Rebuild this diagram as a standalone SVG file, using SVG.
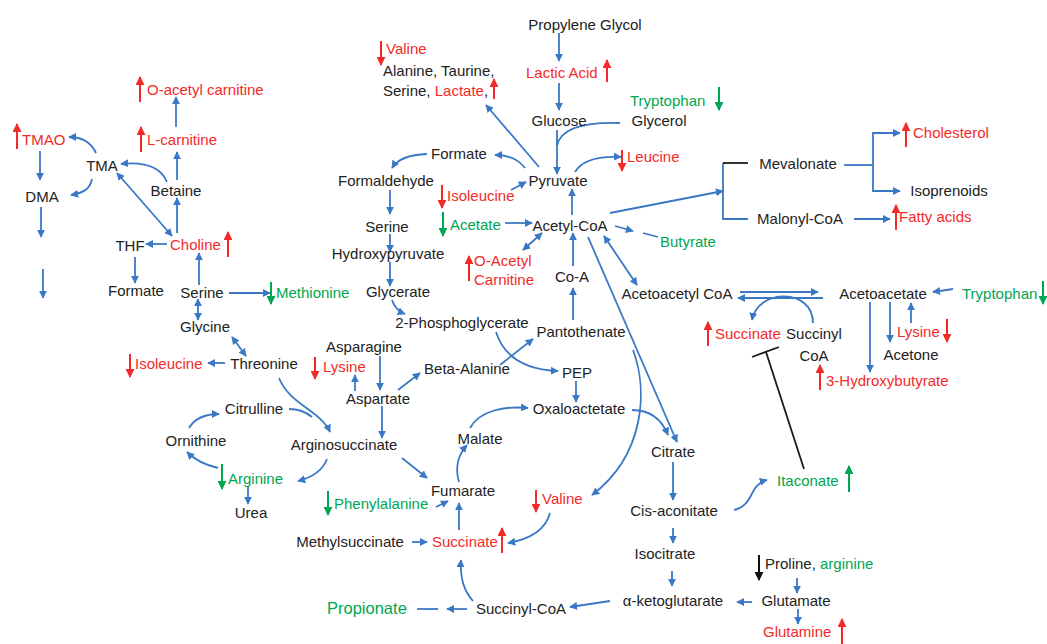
<svg xmlns="http://www.w3.org/2000/svg" width="1047" height="644" viewBox="0 0 1047 644">
<style>
text{font-family:"Liberation Sans",Arial,sans-serif;font-size:15px;fill:#222}
.m{text-anchor:middle}
.r{fill:#f42a2a}
.g{fill:#00a651}
.c{fill:none;stroke:#3a78c6;stroke-width:1.8}
.a{marker-end:url(#ab)}
.d{marker-start:url(#ab);marker-end:url(#ab)}
.ur{fill:none;stroke:#f42a2a;stroke-width:2;marker-end:url(#ar)}
.ug{fill:none;stroke:#00a651;stroke-width:2;marker-end:url(#ag)}
.uk{fill:none;stroke:#111;stroke-width:2;marker-end:url(#ak)}
.bk{fill:none;stroke:#1a1a1a;stroke-width:1.8}
</style>
<defs>
<marker id="ab" viewBox="0 0 10 10" refX="9" refY="5" markerWidth="8" markerHeight="8" markerUnits="userSpaceOnUse" orient="auto-start-reverse"><path d="M0,0L10,5L0,10z" fill="#3a78c6"/></marker>
<marker id="ar" viewBox="0 0 10 10" refX="9" refY="5" markerWidth="9" markerHeight="9" markerUnits="userSpaceOnUse" orient="auto"><path d="M0,0L10,5L0,10z" fill="#f42a2a"/></marker>
<marker id="ag" viewBox="0 0 10 10" refX="9" refY="5" markerWidth="9" markerHeight="9" markerUnits="userSpaceOnUse" orient="auto"><path d="M0,0L10,5L0,10z" fill="#00a651"/></marker>
<marker id="ak" viewBox="0 0 10 10" refX="9" refY="5" markerWidth="9" markerHeight="9" markerUnits="userSpaceOnUse" orient="auto"><path d="M0,0L10,5L0,10z" fill="#111"/></marker>
</defs>

<g id="connectors">
<path class="c a" d="M559,33 L559,61"/>
<path class="c a" d="M559,83 L559,110"/>
<path class="c a" d="M557,130 L557,174"/>
<path class="c" d="M620,123 C585,122 560,128 557,146"/>
<path class="c a" d="M572,215 L572,189"/>
<path class="c a" d="M575,172 Q585,155 621,157"/>
<path class="c a" d="M539,167 L486,105"/>
<path class="c a" d="M525,168 Q515,155 495,155"/>
<path class="c a" d="M427,154 Q400,155 392,168"/>
<path class="c a" d="M390,190 L390,214"/>
<path class="c a" d="M390,234 L390,252"/>
<path class="c a" d="M390,262 L390,286"/>
<path class="c a" d="M392,300 Q395,310 405,314"/>
<path class="c a" d="M573,320 L573,288"/>
<path class="c a" d="M573,266 L573,233"/>
<path class="c a" d="M505,223 L532,223"/>
<path class="c a" d="M511,190 L526,182"/>
<path class="c d" d="M542,233 L523,250"/>
<path class="c a" d="M610,213 L723,191"/>
<path class="c" d="M723,163 L723,219 L748,219"/>
<path class="bk" d="M723,163 L748,163"/>
<path class="c" d="M844,165 L873,165"/>
<path class="c a" d="M873,165 L873,133 L900,133"/>
<path class="c a" d="M873,165 L873,191 L900,191"/>
<path class="c a" d="M854,219 L890,219"/>
<path class="c a" d="M615,226 L633,231"/>
<path class="c" d="M643,233 L658,237"/>
<path class="c d" d="M604,236 L637,285"/>
<path class="c a" d="M740,292 L818,292"/>
<path class="c a" d="M823,298 L738,298"/>
<path class="c a" d="M813,323 C813,288 758,288 752,320"/>
<path class="c a" d="M953,289 L933,292"/>
<path class="c a" d="M870,302 L870,372"/>
<path class="c a" d="M890,302 L890,342"/>
<path class="c a" d="M911,323 L911,303"/>
<path class="bk" d="M804,469 L766,352"/>
<path class="bk" d="M752,357 L779,347"/>
<path class="c a" d="M734,510 C755,505 748,485 767,480"/>
<path class="c a" d="M673,462 L673,500"/>
<path class="c a" d="M673,528 L673,543"/>
<path class="c a" d="M672,571 L672,586"/>
<path class="c a" d="M752,602 L737,602"/>
<path class="c a" d="M797,578 L797,593"/>
<path class="c a" d="M798,609 L798,624"/>
<path class="c a" d="M610,601 L570,607"/>
<path class="c a" d="M467,609 L447,609"/>
<path class="c" d="M417,609 L438,609"/>
<path class="c a" d="M473,601 C463,590 460,575 461,560"/>
<path class="c a" d="M412,542 L427,542"/>
<path class="c a" d="M550,513 C545,532 525,540 508,543"/>
<path class="c a" d="M459,530 L459,503"/>
<path class="c a" d="M436,507 L448,501"/>
<path class="c a" d="M459,482 C455,468 458,455 467,445"/>
<path class="c a" d="M470,428 C480,410 505,406 528,408"/>
<path class="c a" d="M576,381 L576,402"/>
<path class="c a" d="M496,332 C505,360 530,370 558,371"/>
<path class="c a" d="M500,365 L533,339"/>
<path class="c a" d="M398,390 L420,373"/>
<path class="c a" d="M380,356 L380,390"/>
<path class="c a" d="M355,391 L355,375"/>
<path class="c a" d="M382,406 L382,438"/>
<path class="c a" d="M402,458 L427,478"/>
<path class="c a" d="M279,378 C290,405 320,410 330,432"/>
<path class="c" d="M289,409 C300,409 306,412 312,417"/>
<path class="c a" d="M189,428 C195,418 205,414 219,414"/>
<path class="c a" d="M218,468 C205,465 195,460 187,452"/>
<path class="c a" d="M327,459 C322,472 310,478 298,481"/>
<path class="c a" d="M248,486 L248,504"/>
<path class="c a" d="M225,363 L208,363"/>
<path class="c d" d="M232,337 L246,356"/>
<path class="c d" d="M198,299 L198,320"/>
<path class="c a" d="M199,285 L199,253"/>
<path class="c a" d="M229,293 L270,293"/>
<path class="c a" d="M135,257 L135,283"/>
<path class="c a" d="M167,244 L146,244"/>
<path class="c a" d="M177,233 L177,198"/>
<path class="c a" d="M177,180 L177,152"/>
<path class="c a" d="M176,127 L176,97"/>
<path class="c a" d="M167,182 C160,165 140,162 121,164"/>
<path class="c d" d="M117,173 L172,236"/>
<path class="c a" d="M96,153 C90,140 80,137 69,137"/>
<path class="c a" d="M92,179 C90,190 82,193 71,195"/>
<path class="c a" d="M40,151 L40,180"/>
<path class="c a" d="M41,207 L41,237"/>
<path class="c a" d="M43,269 L43,298"/>
<path class="c a" d="M588,237 L677,442"/>
<path class="c a" d="M632,410 C650,410 662,420 668,435"/>
<path class="c a" d="M633,350 C648,390 645,455 592,495"/>
</g>

<g id="indicators">
<path class="ur" d="M140,102 L140,77"/>
<path class="ur" d="M141,152 L141,127"/>
<path class="ur" d="M17,149 L17,124"/>
<path class="ur" d="M228,257 L228,232"/>
<path class="ur" d="M607,82 L607,60"/>
<path class="ur" d="M494,99 L494,79"/>
<path class="ur" d="M469,281 L469,256"/>
<path class="ur" d="M906,147 L906,123"/>
<path class="ur" d="M896,230 L896,205"/>
<path class="ur" d="M708,346 L708,322"/>
<path class="ur" d="M820,390 L820,365"/>
<path class="ur" d="M842,644 L842,619"/>
<path class="ur" d="M502,553 L502,528"/>
<path class="ur" d="M381,41 L381,65"/>
<path class="ur" d="M442,185 L442,208"/>
<path class="ur" d="M622,150 L622,171"/>
<path class="ur" d="M130,354 L130,377"/>
<path class="ur" d="M315,357 L315,379"/>
<path class="ur" d="M947,319 L947,342"/>
<path class="ur" d="M536,490 L536,512"/>
<path class="ug" d="M271,282 L271,304"/>
<path class="ug" d="M719,87 L719,110"/>
<path class="ug" d="M443,212 L443,236"/>
<path class="ug" d="M1043,281 L1043,304"/>
<path class="ug" d="M222,464 L222,489"/>
<path class="ug" d="M328,491 L328,515"/>
<path class="ug" d="M849,492 L849,466"/>
<path class="uk" d="M759,555 L759,580"/>
</g>

<g id="n-propylene"><text class="m" x="585" y="30">Propylene Glycol</text></g>
<g id="n-lactic"><text class="r" x="526" y="78">Lactic Acid</text></g>
<g id="n-glucose"><text class="m" x="559" y="126">Glucose</text></g>
<g id="n-glycerol"><text class="m" x="659" y="126">Glycerol</text></g>
<g id="n-tryptophan1"><text class="g" x="630" y="106">Tryptophan</text></g>
<g id="n-pyruvate"><text class="m" x="558" y="186">Pyruvate</text></g>
<g id="n-leucine"><text class="r" x="627" y="162">Leucine</text></g>
<g id="n-valine1"><text class="r" x="386" y="54">Valine</text></g>
<g id="n-alanine"><text x="383" y="76">Alanine, Taurine,</text><text x="383" y="96">Serine, <tspan class="r">Lactate</tspan>,</text></g>
<g id="n-formate1"><text class="m" x="459" y="159">Formate</text></g>
<g id="n-formaldehyde"><text class="m" x="386" y="186">Formaldehyde</text></g>
<g id="n-serine1"><text class="m" x="387" y="232">Serine</text></g>
<g id="n-hydroxypyruvate"><text class="m" x="388" y="259">Hydroxypyruvate</text></g>
<g id="n-glycerate"><text class="m" x="398" y="297">Glycerate</text></g>
<g id="n-2pg"><text class="m" x="462" y="328">2-Phosphoglycerate</text></g>
<g id="n-isoleucine1"><text class="r" x="447" y="201">Isoleucine</text></g>
<g id="n-acetate"><text class="g" x="450" y="230">Acetate</text></g>
<g id="n-oacetylcarnitine"><text class="r" x="474" y="266">O-Acetyl</text><text class="r" x="474" y="285">Carnitine</text></g>
<g id="n-acetylcoa"><text class="m" x="570" y="231">Acetyl-CoA</text></g>
<g id="n-coa"><text class="m" x="572" y="282">Co-A</text></g>
<g id="n-pantothenate"><text class="m" x="581" y="337">Pantothenate</text></g>
<g id="n-butyrate"><text class="g" x="660" y="247">Butyrate</text></g>
<g id="n-mevalonate"><text class="m" x="798" y="169">Mevalonate</text></g>
<g id="n-malonyl"><text class="m" x="800" y="224">Malonyl-CoA</text></g>
<g id="n-cholesterol"><text class="r" x="913" y="138">Cholesterol</text></g>
<g id="n-isoprenoids"><text class="m" x="949" y="196">Isoprenoids</text></g>
<g id="n-fatty"><text class="r" x="899" y="222">Fatty acids</text></g>
<g id="n-acetoacetylcoa"><text class="m" x="677" y="299">Acetoacetyl CoA</text></g>
<g id="n-acetoacetate"><text class="m" x="883" y="299">Acetoacetate</text></g>
<g id="n-tryptophan2"><text class="g" x="962" y="299">Tryptophan</text></g>
<g id="n-succinate2"><text class="r" x="715" y="339">Succinate</text></g>
<g id="n-succinylcoa2"><text class="m" x="814" y="339">Succinyl</text><text class="m" x="814" y="361">CoA</text></g>
<g id="n-lysine2"><text class="r" x="897" y="337">Lysine</text></g>
<g id="n-acetone"><text class="m" x="911" y="360">Acetone</text></g>
<g id="n-3hb"><text class="r" x="826" y="386">3-Hydroxybutyrate</text></g>
<g id="n-itaconate"><text class="g" x="777" y="486">Itaconate</text></g>
<g id="n-citrate"><text class="m" x="673" y="457">Citrate</text></g>
<g id="n-cisaconitate"><text class="m" x="674" y="516">Cis-aconitate</text></g>
<g id="n-isocitrate"><text class="m" x="665" y="559">Isocitrate</text></g>
<g id="n-akg"><text class="m" x="673" y="606">α-ketoglutarate</text></g>
<g id="n-proline"><text x="765" y="569">Proline, <tspan class="g">arginine</tspan></text></g>
<g id="n-glutamate"><text class="m" x="796" y="606">Glutamate</text></g>
<g id="n-glutamine"><text class="r" x="763" y="637">Glutamine</text></g>
<g id="n-succinylcoa"><text class="m" x="521" y="614">Succinyl-CoA</text></g>
<g id="n-propionate"><text class="g" x="327" y="614" style="font-size:16.5px">Propionate</text></g>
<g id="n-methylsuccinate"><text class="m" x="350" y="547">Methylsuccinate</text></g>
<g id="n-succinate"><text class="r" x="432" y="547">Succinate</text></g>
<g id="n-valine2"><text class="r" x="542" y="504">Valine</text></g>
<g id="n-fumarate"><text class="m" x="463" y="496">Fumarate</text></g>
<g id="n-phenylalanine"><text class="g" x="334" y="509">Phenylalanine</text></g>
<g id="n-malate"><text class="m" x="480" y="444">Malate</text></g>
<g id="n-oxaloacetate"><text class="m" x="579" y="414">Oxaloactetate</text></g>
<g id="n-pep"><text class="m" x="577" y="378">PEP</text></g>
<g id="n-betaalanine"><text class="m" x="467" y="374">Beta-Alanine</text></g>
<g id="n-aspartate"><text class="m" x="378" y="404">Aspartate</text></g>
<g id="n-asparagine"><text class="m" x="364" y="352">Asparagine</text></g>
<g id="n-lysine1"><text class="r" x="323" y="372">Lysine</text></g>
<g id="n-arginosuccinate"><text class="m" x="344" y="450">Arginosuccinate</text></g>
<g id="n-citrulline"><text class="m" x="254" y="414">Citrulline</text></g>
<g id="n-ornithine"><text class="m" x="196" y="446">Ornithine</text></g>
<g id="n-arginine"><text class="g" x="228" y="484">Arginine</text></g>
<g id="n-urea"><text class="m" x="251" y="518">Urea</text></g>
<g id="n-threonine"><text class="m" x="264" y="369">Threonine</text></g>
<g id="n-isoleucine2"><text class="r" x="135" y="369">Isoleucine</text></g>
<g id="n-glycine"><text class="m" x="205" y="332">Glycine</text></g>
<g id="n-serine2"><text class="m" x="202" y="298">Serine</text></g>
<g id="n-methionine"><text class="g" x="276" y="298">Methionine</text></g>
<g id="n-formate2"><text class="m" x="136" y="296">Formate</text></g>
<g id="n-thf"><text class="m" x="130" y="251">THF</text></g>
<g id="n-choline"><text class="r" x="170" y="250">Choline</text></g>
<g id="n-betaine"><text class="m" x="176" y="196">Betaine</text></g>
<g id="n-lcarnitine"><text class="r" x="147" y="145">L-carnitine</text></g>
<g id="n-oacetyl"><text class="r" x="147" y="95">O-acetyl carnitine</text></g>
<g id="n-tma"><text class="m" x="102" y="171">TMA</text></g>
<g id="n-tmao"><text class="r" x="22" y="145">TMAO</text></g>
<g id="n-dma"><text class="m" x="42" y="202">DMA</text></g>
</svg>
